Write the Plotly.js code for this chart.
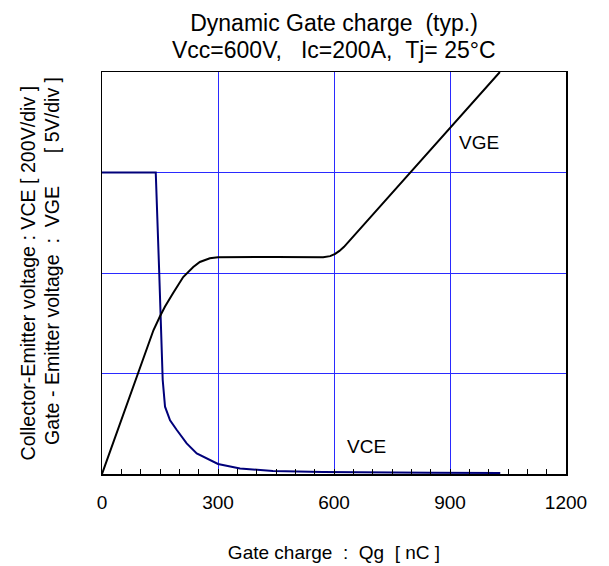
<!DOCTYPE html>
<html>
<head>
<meta charset="utf-8">
<script src="https://cdn.plot.ly/plotly-3.0.1.min.js"></script>
<style>html,body{margin:0;padding:0;background:#fff;}#chart{width:609px;height:566px;}</style>
</head>
<body>
<div id="chart"></div>
<script>
// Gate charge Qg [nC] and collector-emitter voltage VCE [V]
const vceQg = [0, 139, 148, 152.6, 157, 163, 176, 193, 219, 245, 271, 300, 357, 442, 571, 700, 850, 1030];
const vceV  = [600, 600, 400, 293, 187, 134, 107, 88, 61, 41, 31, 20, 11, 6, 4, 3, 2.6, 2];
// Gate charge Qg [nC] and gate-emitter voltage VGE [V]
const vgeQg = [0, 133, 150, 163, 184, 210, 236, 253, 279, 300, 450, 572, 590, 603, 614, 626, 1029];
const vgeV  = [0, 7.15, 7.85, 8.33, 9.0, 9.8, 10.3, 10.55, 10.73, 10.78, 10.8, 10.78, 10.84, 10.95, 11.1, 11.3, 20];
const xTicks = [0, 300, 600, 900, 1200];
const titleLines = ['Dynamic Gate charge  (typ.)', 'Vcc=600V,   Ic=200A,  Tj= 25°C'];

const W = 609, H = 566, L = 102, R = 43, T = 72, B = 92;
const pw = W - L - R, ph = H - T - B;
const px = v => (v - L) / pw;
const py = v => (H - B - v) / ph;
const font = 'Arial, "Liberation Sans", sans-serif';
const nb = s => s.replace(/ /g, '\u00A0');

const traces = [
  {x: vceQg, y: vceV, type: 'scatter', mode: 'lines', name: 'VCE', yaxis: 'y',
   line: {color: '#00007a', width: 2}, showlegend: false, hoverinfo: 'skip'},
  {x: vgeQg, y: vgeV, type: 'scatter', mode: 'lines', name: 'VGE', yaxis: 'y2',
   line: {color: '#000000', width: 2}, showlegend: false, hoverinfo: 'skip'}
];

const layout = {
  width: W, height: H,
  margin: {l: L, r: R, t: T, b: B, pad: 0},
  paper_bgcolor: '#fff', plot_bgcolor: '#fff',
  font: {family: font, color: '#000', size: 19},
  title: {text: nb(titleLines[0]),
          font: {size: 23, family: font, color: '#000'},
          x: 0.5, xref: 'paper', xanchor: 'center', y: 1 - 23 / H, yref: 'container', yanchor: 'middle'},
  xaxis: {range: [0, 1200], tickvals: xTicks, ticktext: xTicks.map(String),
          showgrid: true, gridcolor: '#2a2aff', gridwidth: 1,
          ticks: 'inside', ticklen: 5, tickcolor: '#000',
          minor: {dtick: 50, tick0: 0, ticks: 'inside', ticklen: 5, tickcolor: '#000', showgrid: false},
          showline: true, linecolor: '#000', linewidth: 1.5, mirror: true,
          zeroline: false, ticklabelstandoff: 11,
          tickfont: {size: 19, family: font, color: '#000'},
          title: {text: nb('Gate charge  :  Qg  [ nC ]'), font: {size: 19, family: font, color: '#000'}, standoff: 33},
          fixedrange: true},
  yaxis: {range: [0, 800], dtick: 200, tick0: 0, showticklabels: false, ticks: '',
          showgrid: true, gridcolor: '#2a2aff', gridwidth: 1,
          showline: true, linecolor: '#000', linewidth: 1.5, mirror: true, zeroline: false, fixedrange: true},
  yaxis2: {range: [0, 20], overlaying: 'y', side: 'right', showticklabels: false, ticks: '',
           showgrid: false, zeroline: false, showline: false, fixedrange: true},
  annotations: [
    {text: nb(titleLines[1]), xref: 'paper', yref: 'paper', x: 0.5, y: py(50),
     xanchor: 'center', yanchor: 'middle', showarrow: false, font: {size: 23, family: font, color: '#000'}},
    {text: nb('Collector-Emitter voltage : VCE [ 200V/div ]'), xref: 'paper', yref: 'paper',
     x: px(27), y: py(273.5), xanchor: 'center', yanchor: 'middle', textangle: -90, showarrow: false,
     font: {size: 19.6, family: font, color: '#000'}},
    {text: nb('Gate - Emitter voltage  :  VGE      [ 5V/div ]'), xref: 'paper', yref: 'paper',
     x: px(52), y: py(261), xanchor: 'center', yanchor: 'middle', textangle: -90, showarrow: false,
     font: {size: 19.6, family: font, color: '#000'}},
    {text: 'VGE', xref: 'x', yref: 'paper', x: (478.5 - L) / pw * 1200, y: py(142.5),
     xanchor: 'center', yanchor: 'middle', showarrow: false, font: {size: 19, family: font, color: '#000'}},
    {text: 'VCE', xref: 'x', yref: 'paper', x: (366.7 - L) / pw * 1200, y: py(446.7),
     xanchor: 'center', yanchor: 'middle', showarrow: false, font: {size: 19, family: font, color: '#000'}}
  ]
};

Plotly.newPlot('chart', traces, layout, {displayModeBar: false, staticPlot: true});
</script>
</body>
</html>
